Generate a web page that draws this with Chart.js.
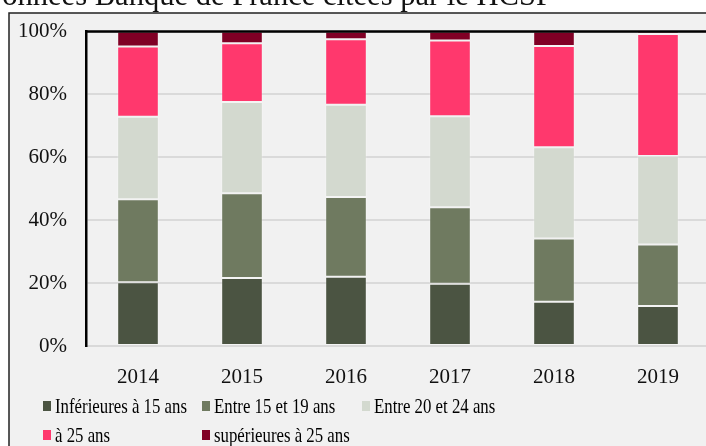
<!DOCTYPE html>
<html><head><meta charset="utf-8">
<script src="https://cdn.jsdelivr.net/npm/chart.js@4.4.1/dist/chart.umd.min.js"></script>
<style>
html,body{margin:0;padding:0;background:#fff;overflow:hidden;width:706px;height:446px}
#wrap{position:absolute;left:0;top:0;width:714px;height:446px}
</style>
</head><body><div id="wrap"><canvas id="c" width="714" height="446"></canvas></div>
<script>
const years = ['2014','2015','2016','2017','2018','2019'];
const inf15  = [20.3, 21.6, 22.0, 19.8, 14.1, 12.7];
const e15_19 = [26.4, 27.0, 25.4, 24.3, 20.1, 19.6];
const e20_24 = [26.2, 29.0, 29.3, 29.0, 29.0, 28.1];
const a25    = [22.4, 18.7, 20.9, 24.1, 32.2, 38.8];
const sup25  = [4.7, 3.7, 2.4, 2.8, 4.6, 0.8];
const seriesNames = ['Inférieures à 15 ans','Entre 15 et 19 ans','Entre 20 et 24 ans','à 25 ans','supérieures à 25 ans'];
const yTicks = [0, 20, 40, 60, 80, 100];
const titleText = 'Données Banque de France citées par le HCSF';

const colors = ['#4b5442','#6f7a60','#d3d9cf','#ff386d','#800025'];
const serieValues = [inf15, e15_19, e20_24, a25, sup25];

const FONT = '"Liberation Serif", "DejaVu Serif", serif';

const decor = {
  id: 'decor',
  beforeDraw(chart) {
    const ctx = chart.ctx;
    ctx.save();
    ctx.fillStyle = '#ffffff';
    ctx.fillRect(0, 0, chart.width, chart.height);
    ctx.fillStyle = '#f1f1f1';
    ctx.fillRect(9, 13, chart.width, chart.height);
    ctx.strokeStyle = '#222';
    ctx.lineWidth = 1.5;
    ctx.beginPath();
    ctx.moveTo(9, chart.height + 2);
    ctx.lineTo(9, 13);
    ctx.lineTo(chart.width + 2, 13);
    ctx.stroke();
    ctx.fillStyle = '#111';
    ctx.font = '24px ' + FONT;
    const w = ctx.measureText(titleText).width;
    const wD = ctx.measureText('D').width;
    const size = 24 * 551 / (w - wD);
    ctx.font = size.toFixed(2) + 'px ' + FONT;
    const w2 = ctx.measureText(titleText).width;
    ctx.textBaseline = 'alphabetic';
    ctx.textAlign = 'left';
    ctx.fillText(titleText, 553 - w2, 5);
    ctx.restore();
  },
  afterDraw(chart) {
    const ctx = chart.ctx;
    const a = chart.chartArea;
    ctx.save();
    ctx.strokeStyle = '#000';
    ctx.lineWidth = 2.5;
    ctx.beginPath();
    ctx.moveTo(a.left - 1, a.top);
    ctx.lineTo(a.right + 2, a.top);
    ctx.stroke();
    const pos = [[43, 406], [202, 406], [362, 406], [43, 435], [202, 435]];
    ctx.font = '21px ' + FONT;
    ctx.textBaseline = 'middle';
    ctx.textAlign = 'left';
    chart.data.datasets.forEach((ds, i) => {
      const [x, y] = pos[i];
      ctx.fillStyle = ds.backgroundColor;
      ctx.fillRect(x, y - 5, 8, 10);
      ctx.fillStyle = '#000';
      ctx.save();
      ctx.translate(x + 12, y + 1);
      ctx.scale(0.8, 1);
      ctx.fillText(ds.label, 0, 0);
      ctx.restore();
    });
    ctx.restore();
  }
};

const datasets = seriesNames.map((name, i) => ({
  label: name,
  data: serieValues[i],
  backgroundColor: colors[i],
  borderColor: 'rgba(255,255,255,0.22)',
  borderWidth: 1,
  borderSkipped: false,
  barPercentage: 0.4,
  categoryPercentage: 1.0
}));

new Chart(document.getElementById('c'), {
  type: 'bar',
  data: { labels: years, datasets },
  options: {
    responsive: false,
    animation: false,
    devicePixelRatio: 1,
    layout: { padding: { left: 0, top: 30, right: 4, bottom: 0 } },
    plugins: { legend: { display: false }, tooltip: { enabled: false } },
    scales: {
      x: {
        stacked: true,
        grid: { display: false, drawTicks: false },
        border: { display: true, color: '#d9d9d9', width: 2 },
        ticks: { color: '#111', font: { family: FONT, size: 21 }, padding: 19 },
        afterFit(s) { s.height = 100; }
      },
      y: {
        stacked: true,
        min: 0, max: 100,
        afterBuildTicks(s) { s.ticks = yTicks.map(v => ({ value: v })); },
        grid: { color: '#dadada', lineWidth: 2, drawTicks: false },
        border: { display: true, color: '#000', width: 2.5 },
        ticks: { color: '#111', font: { family: FONT, size: 21 }, padding: 19,
                 callback: v => v + '%' },
        afterFit(s) { s.width = 86; }
      }
    }
  },
  plugins: [decor]
});
</script>
</body></html>
